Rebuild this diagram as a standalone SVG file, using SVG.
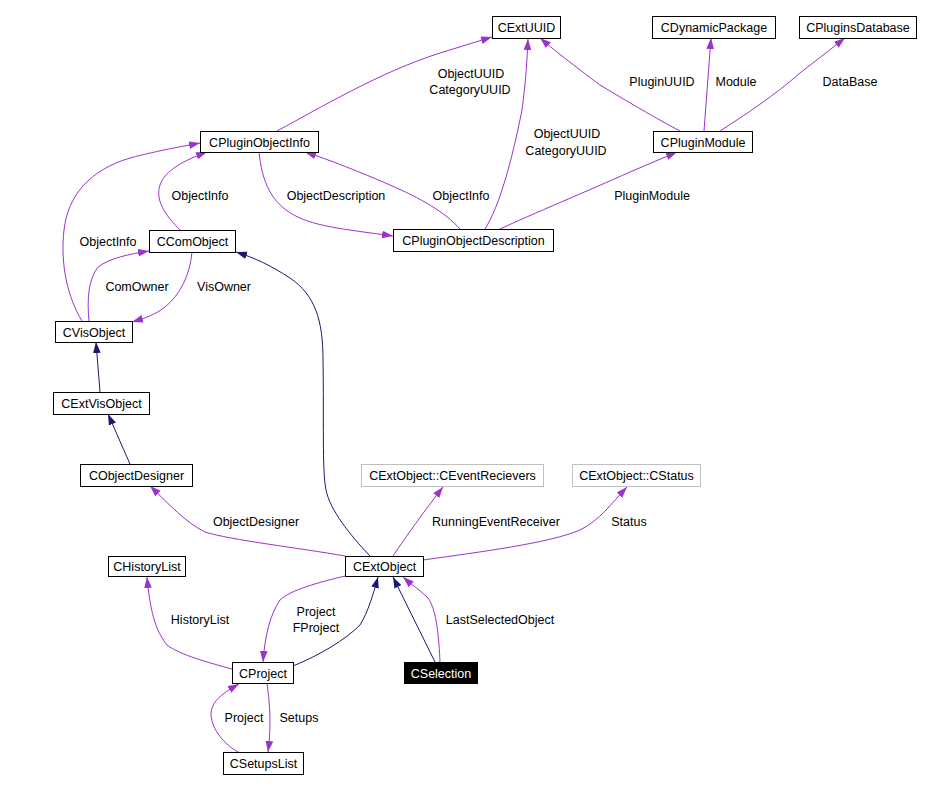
<svg xmlns="http://www.w3.org/2000/svg" width="928" height="791" viewBox="0 0 928 791">
<defs>
<style>
text{font-family:"Liberation Sans",Arial,sans-serif;font-size:12.5px;fill:#000;text-anchor:middle}
.n rect{fill:#fff;stroke:#000;stroke-width:1}
.g rect{fill:#fff;stroke:#bfbfbf;stroke-width:1}
.sel rect{fill:#000;stroke:#000}
.sel text{fill:#fff}
.u{fill:none;stroke:#9a32cd;stroke-width:1;marker-end:url(#ap)}
.i{fill:none;stroke:#191970;stroke-width:1;marker-end:url(#ai)}
</style>
<marker id="ap" viewBox="0 0 10 7" refX="10" refY="3.5" markerWidth="11" markerHeight="8" markerUnits="userSpaceOnUse" orient="auto"><path d="M0,0 L10,3.5 L0,7 z" fill="#9a32cd"/></marker>
<marker id="ai" viewBox="0 0 10 7" refX="10" refY="3.5" markerWidth="11" markerHeight="8" markerUnits="userSpaceOnUse" orient="auto"><path d="M0,0 L10,3.5 L0,7 z" fill="#191970"/></marker>
</defs>
<rect width="928" height="791" fill="#fff"/>
<g id="connectors">
<path class="u" d="M277,131 C320,108 380,72 440,53 L492,37"/>
<path class="u" d="M485,229 C500,205 512,160 522,110 C526,80 527,60 528,39"/>
<path class="u" d="M680,131 C650,115 620,97 600,85 C580,70 560,55 540,38"/>
<path class="u" d="M704,131 L711,38"/>
<path class="u" d="M720,131 C745,115 775,95 800,73 L845,38"/>
<path class="u" d="M500,229 C530,215 590,190 630,172 L677,152"/>
<path class="u" d="M460,229 C445,212 420,198 390,185 C360,172 330,160 305,152"/>
<path class="u" d="M259,152 C262,180 270,205 300,218 C320,227 350,230 393,236"/>
<path class="u" d="M180,230 C165,215 155,200 160,185 C165,170 185,160 207,152"/>
<path class="u" d="M82,321 C68,298 60,265 64,230 C68,195 90,170 130,158 C160,150 185,146 200,143"/>
<path class="u" d="M89,321 C87,300 88,280 98,267 C110,258 130,254 149,251"/>
<path class="u" d="M192,252 C190,275 180,295 165,307 C155,315 145,318 132,322"/>
<path class="i" d="M100,392 L96,342"/>
<path class="i" d="M130,464 L108,414"/>
<path class="i" d="M370,556 C350,535 330,510 326,490 C322,470 324,420 323,360 C323,320 315,295 290,278 C270,265 255,258 236,252"/>
<path class="u" d="M345,556 C300,548 230,540 205,532 C185,522 170,505 150,486"/>
<path class="u" d="M393,556 C405,538 425,510 443,487"/>
<path class="u" d="M423,560 C480,552 550,543 580,530 C600,520 610,505 627,487"/>
<path class="u" d="M232,669 C210,663 180,655 167,645 C155,630 150,610 147,577"/>
<path class="u" d="M345,576 C320,582 290,590 280,600 C270,615 265,635 263,662"/>
<path class="i" d="M293,666 C320,655 345,640 360,625 C368,612 373,595 378,577"/>
<path class="i" d="M435,662 L393,577"/>
<path class="u" d="M440,662 C439,640 437,610 428,598 C420,590 412,585 403,577"/>
<path class="u" d="M267,683 C269,700 272,720 268,752"/>
<path class="u" d="M238,752 C225,745 212,730 211,715 C211,700 225,692 239,684"/>
</g>
<g id="edge-labels">
<text x="471" y="78">ObjectUUID</text>
<text x="470" y="94">CategoryUUID</text>
<text x="567" y="138">ObjectUUID</text>
<text x="566" y="155">CategoryUUID</text>
<text x="662" y="86">PluginUUID</text>
<text x="736" y="86">Module</text>
<text x="850" y="86">DataBase</text>
<text x="652" y="200">PluginModule</text>
<text x="461" y="200">ObjectInfo</text>
<text x="336" y="200">ObjectDescription</text>
<text x="200" y="200">ObjectInfo</text>
<text x="108" y="246">ObjectInfo</text>
<text x="137" y="291">ComOwner</text>
<text x="224" y="291">VisOwner</text>
<text x="256" y="526">ObjectDesigner</text>
<text x="496" y="526">RunningEventReceiver</text>
<text x="629" y="526">Status</text>
<text x="200" y="624">HistoryList</text>
<text x="316" y="616">Project</text>
<text x="316" y="632">FProject</text>
<text x="500" y="624">LastSelectedObject</text>
<text x="244" y="722">Project</text>
<text x="299" y="722">Setups</text>
</g>
<g id="CExtUUID" class="n"><rect x="492.5" y="16.5" width="68" height="22"/><text x="526.5" y="32">CExtUUID</text></g>
<g id="CDynamicPackage" class="n"><rect x="652.5" y="16.5" width="123" height="22"/><text x="714" y="32">CDynamicPackage</text></g>
<g id="CPluginsDatabase" class="n"><rect x="799.5" y="16.5" width="117" height="22"/><text x="858" y="32">CPluginsDatabase</text></g>
<g id="CPluginObjectInfo" class="n"><rect x="200.5" y="131.5" width="118" height="21"/><text x="259.5" y="146.5">CPluginObjectInfo</text></g>
<g id="CPluginModule" class="n"><rect x="653.5" y="131.5" width="99" height="21"/><text x="703" y="146.5">CPluginModule</text></g>
<g id="CPluginObjectDescription" class="n"><rect x="393.5" y="229.5" width="160" height="22"/><text x="473.5" y="245">CPluginObjectDescription</text></g>
<g id="CComObject" class="n"><rect x="149.5" y="230.5" width="86" height="22"/><text x="192.5" y="246">CComObject</text></g>
<g id="CVisObject" class="n"><rect x="55.5" y="321.5" width="77" height="21"/><text x="94" y="336.5">CVisObject</text></g>
<g id="CExtVisObject" class="n"><rect x="53.5" y="392.5" width="96" height="22"/><text x="101.5" y="408">CExtVisObject</text></g>
<g id="CObjectDesigner" class="n"><rect x="80.5" y="464.5" width="112" height="22"/><text x="136.5" y="480">CObjectDesigner</text></g>
<g id="CExtObject_CEventRecievers" class="g"><rect x="361.5" y="464.5" width="182" height="22"/><text x="452.5" y="480">CExtObject::CEventRecievers</text></g>
<g id="CExtObject_CStatus" class="g"><rect x="572.5" y="464.5" width="128" height="22"/><text x="636.5" y="480">CExtObject::CStatus</text></g>
<g id="CHistoryList" class="n"><rect x="108.5" y="556.5" width="77" height="20"/><text x="147" y="571">CHistoryList</text></g>
<g id="CExtObject" class="n"><rect x="345.5" y="556.5" width="78" height="20"/><text x="384.5" y="571">CExtObject</text></g>
<g id="CProject" class="n"><rect x="232.5" y="662.5" width="61" height="21"/><text x="263" y="677.5">CProject</text></g>
<g id="CSelection" class="n sel"><rect x="404.5" y="662.5" width="73" height="21"/><text x="441" y="677.5">CSelection</text></g>
<g id="CSetupsList" class="n"><rect x="223.5" y="752.5" width="80" height="22"/><text x="263.5" y="768">CSetupsList</text></g>
</svg>
